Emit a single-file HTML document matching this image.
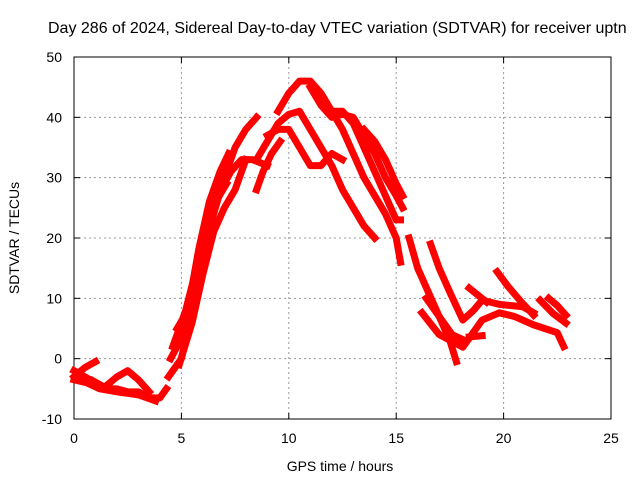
<!DOCTYPE html>
<html><head><meta charset="utf-8"><style>
body{margin:0;background:#fff}
text{font-family:"Liberation Sans",sans-serif;font-size:14px;fill:#000}
</style></head><body>
<svg width="640" height="480">
<g id="grid"></g>
<rect x="74" y="57" width="537" height="362" fill="none" stroke="#000"/>
<g id="ticks"></g>
<g id="series"></g>
<text x="48" y="33" style="font-size:16px">Day 286 of 2024, Sidereal Day-to-day VTEC variation (SDTVAR) for receiver uptn</text>
<text x="340" y="471" text-anchor="middle">GPS time / hours</text>
<text x="0" y="0" transform="translate(19,238) rotate(-90)" text-anchor="middle">SDTVAR / TECUs</text>
</svg>
<script>
const xTicks=[0,5,10,15,20,25];
const yTicks=[-10,0,10,20,30,40,50];
const tracks=[
[[0,-2],[0.5,-3],[1,-4],[1.5,-5],[2,-5],[2.5,-5.5],[3,-5.5],[3.5,-6.5],[4,-6.5],[4.3,-5]],
[[0,-3],[0.5,-1.5],[1,-0.5]],
[[1.5,-4.5],[2,-3],[2.5,-2],[3,-3.5],[3.5,-5.5]],
[[0.3,-3],[0.8,-3.5],[1.3,-4.5],[1.8,-5]],
[[0,-3.5],[0.6,-4],[1.2,-5],[2,-5.5],[3,-6],[3.8,-7]],
[[4.4,-3],[5,0],[5.5,8],[6,17],[6.5,24],[7,30],[7.5,35],[8,38],[8.5,40]],
[[4.6,2],[5.2,8],[5.7,15],[6.2,22],[6.7,27],[7.3,31],[7.8,33],[8.3,33],[9,32]],
[[4.9,-1],[5.5,6],[6,14],[6.5,21],[7,25],[7.5,28],[8,33]],
[[4.8,5],[5.3,8],[5.8,18],[6.3,26],[6.8,31],[7.2,34]],
[[4.5,0],[5.1,4],[5.6,12],[6.1,20],[6.6,26],[7.1,29]],
[[8.5,28],[8.8,31],[9.2,34],[9.6,36]],
[[9.5,41],[10,44],[10.5,46],[11,46],[11.5,44],[12,41],[12.5,38],[13,34],[13.5,30],[14,27],[14.5,24],[15,20],[15.2,16]],
[[8.5,33],[9,36],[9.5,39],[10,40.5],[10.5,41],[11,38],[11.5,35],[12,32],[12.5,28],[13,25],[13.5,22],[14,20]],
[[9,37],[9.5,38],[10,38],[10.5,35],[11,32],[11.5,32],[12,34],[12.5,33]],
[[11,45],[11.5,42],[12,40],[12.5,40.5],[13,40],[13.5,37],[14,34],[14.5,30],[15,27],[15.3,25]],
[[12,41],[12.5,41],[13,39],[13.5,35],[14,31],[14.5,27],[15,23],[15.2,23]],
[[13.5,38],[14,36],[14.5,33],[15,29],[15.3,27]],
[[15.6,20],[16,15],[16.5,11],[17,7],[17.5,3],[17.8,-0.5]],
[[16.6,19],[17,15],[17.5,11],[18.1,6.4],[18.6,8],[19,9.7],[19.8,9],[20.9,8.6],[21.4,7.6]],
[[18.4,11.7],[19.2,9.4]],
[[19.7,14.4],[20.2,12],[20.8,9.5],[21.4,7.2]],
[[16.2,7.6],[17,4],[18.1,1.9],[19,6.4],[19.8,7.6],[20.5,7],[21.4,5.6],[22.5,4.3],[22.8,2]],
[[16.4,10],[17,7],[17.6,4],[18.2,3]],
[[21.7,9.7],[22.3,7.5],[22.9,5.9]],
[[22.1,10],[22.5,8.8],[22.9,7.2]],
[[18.4,3.6],[19,3.8]]
];
const X=t=>74+t*537/25, Y=v=>57+(50-v)*362/60;
const ns="http://www.w3.org/2000/svg";
const grid=document.getElementById('grid'), tk=document.getElementById('ticks'), ser=document.getElementById('series');
function mk(tag,attrs,parent){const e=document.createElementNS(ns,tag);for(const k in attrs)e.setAttribute(k,attrs[k]);parent.appendChild(e);return e;}
xTicks.forEach(t=>{
  const l=mk('line',{x1:X(t),x2:X(t),y1:57,y2:419,stroke:'#999','stroke-dasharray':'2,3'},grid);
  
  
  mk('line',{x1:X(t),x2:X(t),y1:419,y2:413,stroke:'#000'},tk);
  mk('line',{x1:X(t),x2:X(t),y1:57,y2:63,stroke:'#000'},tk);
  const s=mk('text',{x:X(t),y:443,'text-anchor':'middle'},tk);s.textContent=t;
  
  
});
yTicks.forEach(v=>{
  const l=mk('line',{x1:74,x2:611,y1:Y(v),y2:Y(v),stroke:'#999','stroke-dasharray':'2,3'},grid);
  
  
  mk('line',{x1:74,x2:80,y1:Y(v),y2:Y(v),stroke:'#000'},tk);
  mk('line',{x1:605,x2:611,y1:Y(v),y2:Y(v),stroke:'#000'},tk);
  const s=mk('text',{x:62,y:Y(v)+5,'text-anchor':'end'},tk);s.textContent=v;
  
  
});
tracks.forEach(tr=>{
  const p=mk('polyline',{points:tr.map(d=>X(d[0])+','+Y(d[1])).join(' '),fill:'none',stroke:'#f00','stroke-width':7,'stroke-linejoin':'round','stroke-linecap':'square'},ser);
  
  
});
</script>
</body></html>
